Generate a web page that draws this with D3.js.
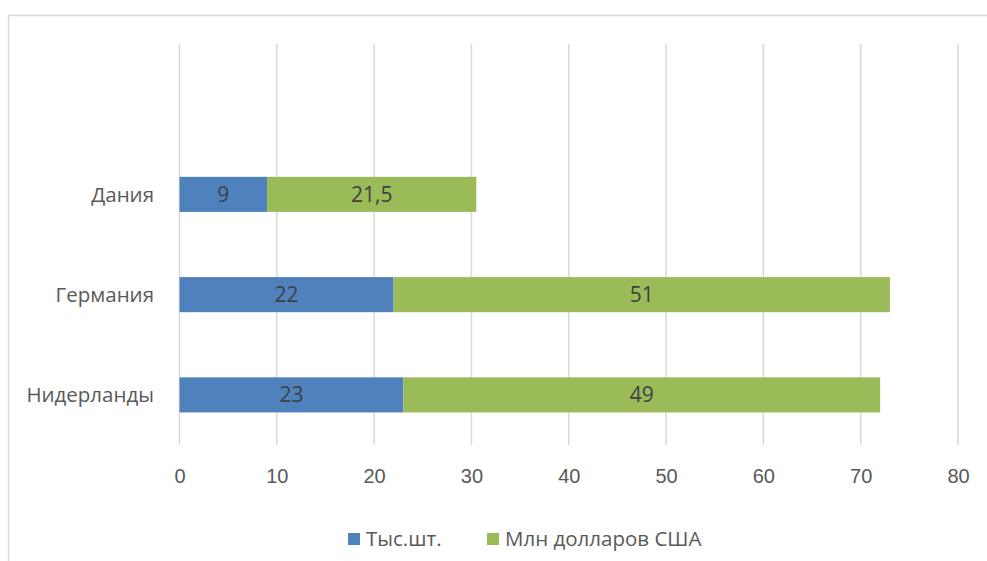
<!DOCTYPE html>
<html>
<head>
<meta charset="utf-8">
<script src="https://cdn.jsdelivr.net/npm/d3@7"></script>
<style>
  body { margin: 0; background: #fff; }
  svg { font-family: "Open Sans", sans-serif; }
</style>
</head>
<body>
<svg id="chart" width="987" height="561"></svg>
<script>
const categories = ['Дания', 'Германия', 'Нидерланды'];
const seriesNames = ['Тыс.шт.', 'Млн долларов США'];
const units = [9, 22, 23];
const dollars = [21.5, 51, 49];
const ticks = [0, 10, 20, 30, 40, 50, 60, 70, 80];

const colors = ['#4f81bd', '#9bbb59'];

const svg = d3.select('#chart');

// chart border (only left and top visible in the original crop)
svg.append('path')
  .attr('d', 'M8.5,561 V15.5 H987')
  .attr('fill', 'none')
  .attr('stroke', '#d9d9d9')
  .attr('stroke-width', 1.5);

const x = d3.scaleLinear().domain([0, 80]).range([179.5, 958]);
// an empty slot on top, as in the source chart
const y = d3.scaleBand().domain(['', ...categories]).range([44, 445]);

const grid = svg.append('g');
grid.selectAll('line')
  .data(ticks)
  .enter()
  .append('line')
  .attr('x1', d => x(d))
  .attr('x2', d => x(d))
  .attr('y1', 44)
  .attr('y2', 445)
  .attr('stroke', '#d9d9d9')
  .attr('stroke-width', 1.5);

const xAxis = svg.append('g')
  .attr('transform', 'translate(0,445)')
  .call(d3.axisBottom(x).tickValues(ticks).tickSize(0).tickPadding(24));
xAxis.select('.domain').remove();
xAxis.selectAll('text')
  .attr('fill', '#595959')
  .style('font-size', '20px');

svg.append('g')
  .selectAll('text')
  .data(categories)
  .enter()
  .append('text')
  .attr('x', 154)
  .attr('y', d => y(d) + y.bandwidth() / 2)
  .attr('dy', '0.35em')
  .attr('text-anchor', 'end')
  .attr('fill', '#595959')
  .style('font-size', '20.5px')
  .text(d => d);

const rows = categories.map((c, i) => ({ cat: c, a: units[i], b: dollars[i] }));
const stacked = d3.stack().keys(['a', 'b'])(rows);

const barH = y.bandwidth() * 0.35;

const layers = svg.append('g')
  .selectAll('g')
  .data(stacked)
  .enter()
  .append('g')
  .attr('fill', (d, i) => colors[i]);

layers.selectAll('rect')
  .data(d => d)
  .enter()
  .append('rect')
  .attr('x', d => x(d[0]))
  .attr('width', d => x(d[1]) - x(d[0]))
  .attr('y', d => y(d.data.cat) + y.bandwidth() / 2 - barH / 2)
  .attr('height', barH);

layers.selectAll('text')
  .data(d => d.map(v => ({ v, key: d.key })))
  .enter()
  .append('text')
  .attr('x', d => (x(d.v[0]) + x(d.v[1])) / 2)
  .attr('y', d => y(d.v.data.cat) + y.bandwidth() / 2)
  .attr('dy', '0.36em')
  .attr('text-anchor', 'middle')
  .attr('fill', '#404040')
  .style('font-size', '21px')
  .text(d => String(d.v.data[d.key]).replace('.', ','));

// legend
const legendX = [348, 487];
const legend = svg.append('g')
  .selectAll('g')
  .data(seriesNames)
  .enter()
  .append('g')
  .attr('transform', (d, i) => `translate(${legendX[i]},539)`);

legend.append('rect')
  .attr('x', 0)
  .attr('y', -6)
  .attr('width', 12)
  .attr('height', 12)
  .attr('fill', (d, i) => colors[i]);

legend.append('text')
  .attr('x', 18)
  .attr('dy', '0.36em')
  .attr('fill', '#595959')
  .style('font-size', '20.5px')
  .text(d => d);
</script>
</body>
</html>
